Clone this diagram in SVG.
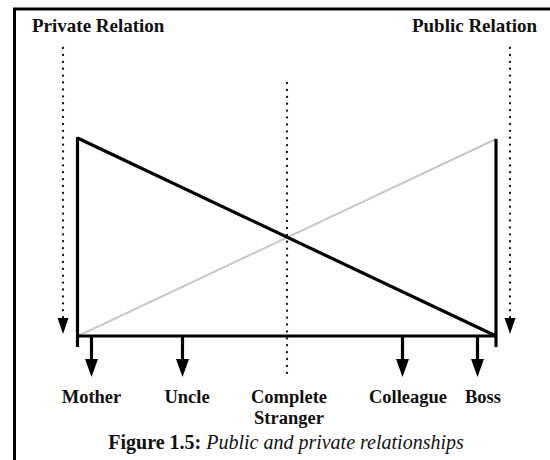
<svg xmlns="http://www.w3.org/2000/svg" width="550" height="460" viewBox="0 0 550 460">
  <defs>
    <style>
      .lbl { font-family: "Liberation Serif", "Times New Roman", serif; font-weight: bold; font-size: 18.5px; fill: #111; }
      .hdr { font-size: 19px; }
      .cap { font-family: "Liberation Serif", "Times New Roman", serif; font-size: 20px; fill: #111; }
      .thick { stroke: #000; stroke-width: 3.2; fill: none; }
      .dots { stroke: #111; stroke-width: 2.3; stroke-linecap: round; stroke-dasharray: 0.1 6.8; fill: none; }
      .shaft { stroke: #000; stroke-width: 3.2; }
      .head { fill: #000; }
    </style>
  </defs>

  <rect width="550" height="460" fill="#fff"/>

  <!-- frame -->
  <path d="M14.5,462 V9 H552" fill="none" stroke="#000" stroke-width="3"/>

  <!-- headings -->
  <g id="private-relation">
    <text class="lbl hdr" x="32" y="32">Private Relation</text>
  </g>
  <g id="public-relation">
    <text class="lbl hdr" x="537" y="32" text-anchor="end">Public Relation</text>
  </g>

  <g id="connectors">
    <!-- dotted guides -->
    <line class="dots" x1="63" y1="48" x2="63" y2="318"/>
    <polygon class="head" points="57.5,318 68.5,318 63,334"/>
    <line class="dots" x1="510" y1="48" x2="510" y2="318"/>
    <polygon class="head" points="504.5,318 515.5,318 510,334"/>
    <line class="dots" x1="287" y1="83" x2="287" y2="374"/>

    <!-- rising line (public) -->
    <line x1="78" y1="336" x2="496" y2="139" stroke="#c8c8c8" stroke-width="2"/>

    <!-- scale frame and falling line (private) -->
    <line class="thick" x1="77.5" y1="137" x2="77.5" y2="347"/>
    <line class="thick" x1="496" y1="139" x2="496" y2="347"/>
    <line class="thick" x1="77.5" y1="336" x2="496" y2="336"/>
    <line class="thick" x1="77.5" y1="138" x2="496" y2="336"/>

    <!-- downward pointers -->
    <line class="shaft" x1="91.5" y1="336" x2="91.5" y2="362"/>
    <polygon class="head" points="85,359 98,359 91.5,377"/>
    <line class="shaft" x1="182.5" y1="336" x2="182.5" y2="362"/>
    <polygon class="head" points="176,359 189,359 182.5,377"/>
    <line class="shaft" x1="402.5" y1="336" x2="402.5" y2="362"/>
    <polygon class="head" points="396,359 409,359 402.5,377"/>
    <line class="shaft" x1="477.5" y1="336" x2="477.5" y2="362"/>
    <polygon class="head" points="471,359 484,359 477.5,377"/>
  </g>

  <!-- relation labels -->
  <g id="mother"><text class="lbl" x="91.5" y="403" text-anchor="middle">Mother</text></g>
  <g id="uncle"><text class="lbl" x="187" y="403" text-anchor="middle">Uncle</text></g>
  <g id="complete-stranger">
    <text class="lbl" x="289" y="403" text-anchor="middle">Complete</text>
    <text class="lbl" x="289" y="424" text-anchor="middle">Stranger</text>
  </g>
  <g id="colleague"><text class="lbl" x="408" y="403" text-anchor="middle">Colleague</text></g>
  <g id="boss"><text class="lbl" x="483" y="403" text-anchor="middle">Boss</text></g>

  <!-- caption -->
  <text class="cap" x="286" y="449" text-anchor="middle"><tspan font-weight="bold">Figure 1.5: </tspan><tspan font-style="italic">Public and private relationships</tspan></text>
</svg>
